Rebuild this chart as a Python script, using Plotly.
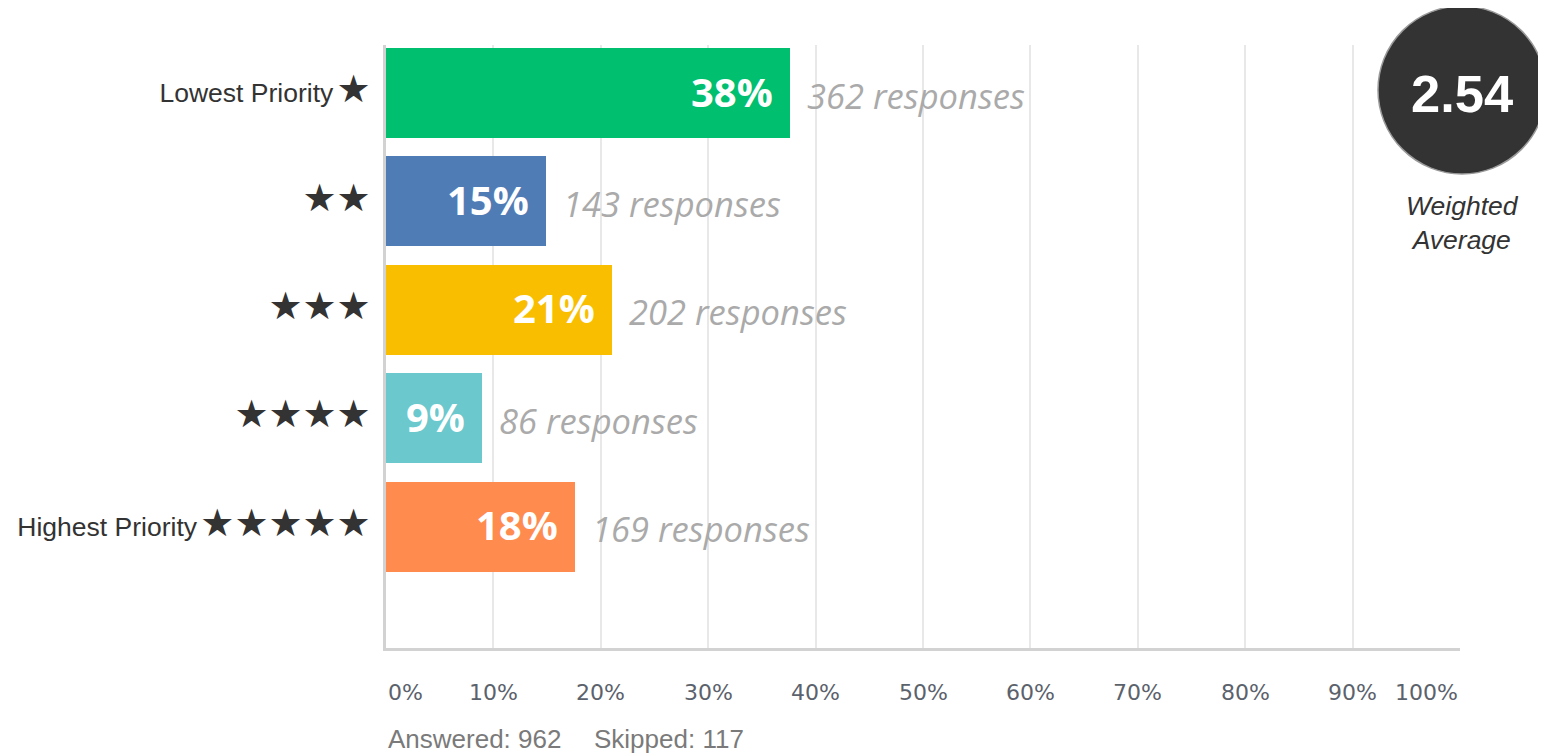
import plotly.graph_objects as go

# ---- data ----
categories = ["Lowest Priority ★", "★★", "★★★", "★★★★", "Highest Priority ★★★★★"]
label_words = ["Lowest Priority", "", "", "", "Highest Priority"]
star_counts = [1, 2, 3, 4, 5]
pct_values = [37.63, 14.86, 21.00, 8.94, 17.57]
pct_labels = ["38%", "15%", "21%", "9%", "18%"]
responses = [362, 143, 202, 86, 169]
bar_colors = ["#00BF6F", "#507CB6", "#F9BE00", "#6BC8CD", "#FF8B4F"]
x_ticks = [0, 10, 20, 30, 40, 50, 60, 70, 80, 90, 100]
x_tick_labels = ["0%", "10%", "20%", "30%", "40%", "50%", "60%", "70%", "80%", "90%", "100%"]
weighted_average = "2.54"
answered = 962
skipped = 117

# page has an 8px body margin: work in reference pixels, shift by OFF
OFF = 8
W, H = 1546 - OFF, 756 - OFF
L, R, T, B = 386 - OFF, 1546 - 1460, 45 - OFF, 756 - 648
PW, PH = W - L - R, H - T - B

def px_x(p):
    return (p - OFF - L) / PW

def px_y(p):
    return (T + PH - (p - OFF)) / PH

ypos = list(range(len(categories)))

ticktext = []
for w, n in zip(label_words, star_counts):
    stars = "<span style='font-size:38px'>" + "★" * n + "</span>"
    gap = "<span style='font-size:12px'> </span>" if w else ""
    ticktext.append(w + gap + stars)

fig = go.Figure()
fig.add_trace(go.Bar(
    x=pct_values, y=ypos, orientation="h",
    marker=dict(color=bar_colors, line=dict(width=0)),
    width=0.83, hoverinfo="skip",
))

annotations = []
for y, p, lab, r in zip(ypos, pct_values, pct_labels, responses):
    annotations.append(dict(
        x=p, y=y, xref="x", yref="y", text="<b>" + lab + "</b>",
        xanchor="right", yanchor="middle", xshift=-15, yshift=2, showarrow=False,
        font=dict(family="Open Sans", size=40, color="white"),
    ))
    annotations.append(dict(
        x=p, y=y, xref="x", yref="y", text="<i>%d responses</i>" % r,
        xanchor="left", yanchor="middle", xshift=15, yshift=-2, showarrow=False,
        font=dict(family="Open Sans", size=34.5, color="#AAAAAA"),
    ))

for i, (v, t) in enumerate(zip(x_ticks, x_tick_labels)):
    anchor = "left" if i == 0 else ("right" if i == len(x_ticks) - 1 else "center")
    annotations.append(dict(
        x=v, y=px_y(692), xref="x", yref="paper", text=t,
        xanchor=anchor, yanchor="middle", showarrow=False,
        font=dict(family="DejaVu Sans", size=22, color="#5B626C"),
    ))

annotations.append(dict(
    x=0, y=px_y(739), xref="x", yref="paper", text="Answered: %d" % answered,
    xanchor="left", yanchor="middle", showarrow=False,
    font=dict(family="Liberation Sans, Arial", size=26, color="#7A7A7A"),
))
annotations.append(dict(
    x=px_x(592), y=px_y(739), xref="paper", yref="paper", text="Skipped: %d" % skipped,
    xanchor="left", yanchor="middle", showarrow=False,
    font=dict(family="Liberation Sans, Arial", size=26, color="#7A7A7A"),
))

# weighted average badge
cx, cy, rad = 1462, 90, 84
annotations.append(dict(
    x=px_x(cx), y=px_y(cy + 4), xref="paper", yref="paper", text="<b>" + weighted_average + "</b>",
    xanchor="center", yanchor="middle", showarrow=False,
    font=dict(family="Liberation Sans, Arial", size=52.5, color="white"),
))
annotations.append(dict(
    x=px_x(cx), y=px_y(223), xref="paper", yref="paper", text="<i>Weighted<br>Average</i>",
    xanchor="center", yanchor="middle", showarrow=False,
    font=dict(family="Liberation Sans, Arial", size=26.5, color="#333333"),
))

shapes = [dict(
    type="circle", xref="paper", yref="paper",
    x0=px_x(cx - rad), x1=px_x(cx + rad), y0=px_y(cy + rad), y1=px_y(cy - rad),
    fillcolor="#333333", line=dict(color="#9A9A9A", width=1.5), layer="above",
)]

fig.update_layout(
    width=W, height=H,
    margin=dict(l=L, r=R, t=T, b=B, pad=0, autoexpand=False),
    paper_bgcolor="white", plot_bgcolor="white",
    showlegend=False,
    bargap=0,
    xaxis=dict(
        range=[0, 100], tickvals=x_ticks, showticklabels=False,
        showgrid=True, gridcolor="#E8E8E8", gridwidth=1.5,
        showline=True, linecolor="#D2D2D2", linewidth=3,
        zeroline=False, ticks="", fixedrange=True, automargin=False,
    ),
    yaxis=dict(
        range=[5.12, -0.443], tickvals=ypos, ticktext=ticktext,
        showgrid=False, zeroline=False, ticks="",
        showline=True, linecolor="#D2D2D2", linewidth=3,
        tickfont=dict(family="Liberation Sans, Arial, DejaVu Sans", size=26.5, color="#333333"),
        ticklabelstandoff=7, fixedrange=True, automargin=False,
    ),
    annotations=annotations,
    shapes=shapes,
)

fig.write_html("out.html")
